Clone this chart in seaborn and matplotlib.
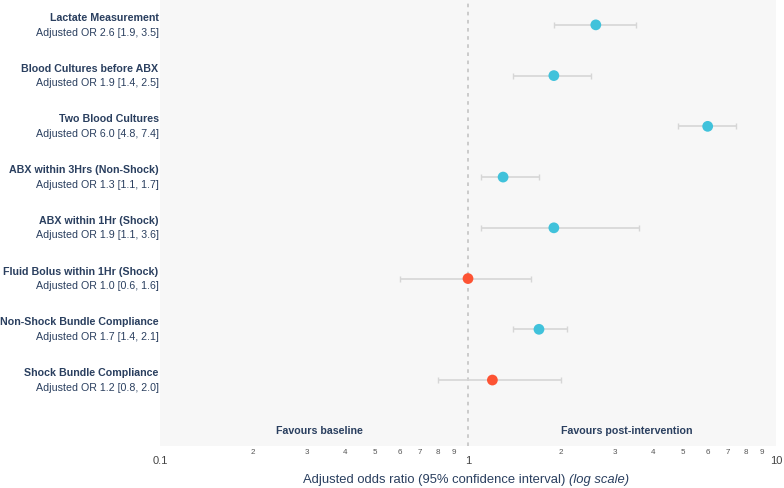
import numpy as np
import pandas as pd
import seaborn as sns
import matplotlib.pyplot as plt
from matplotlib.ticker import FixedLocator, FixedFormatter
import matplotlib.transforms as mtransforms

# -----------------------------
# Data
# -----------------------------
measures = ['Lactate Measurement', 'Blood Cultures before ABX', 'Two Blood Cultures',
            'ABX within 3Hrs (Non-Shock)', 'ABX within 1Hr (Shock)',
            'Fluid Bolus within 1Hr (Shock)', 'Non-Shock Bundle Compliance',
            'Shock Bundle Compliance']
odds_ratio = [2.6, 1.9, 6.0, 1.3, 1.9, 1.0, 1.7, 1.2]
ci_low = [1.9, 1.4, 4.8, 1.1, 1.1, 0.6, 1.4, 0.8]
ci_high = [3.5, 2.5, 7.4, 1.7, 3.6, 1.6, 2.1, 2.0]

major_ticks = [0.1, 1, 10]
major_labels = ['0.1', '1', '10']
minor_ticks = [0.2, 0.3, 0.4, 0.5, 0.6, 0.7, 0.8, 0.9, 2, 3, 4, 5, 6, 7, 8, 9]
minor_labels = ['2', '3', '4', '5', '6', '7', '8', '9'] * 2

df = pd.DataFrame({'measure': measures, 'OR': odds_ratio, 'lo': ci_low, 'hi': ci_high})
df['row'] = np.arange(len(df))
df['sig'] = np.where((df['lo'] > 1) | (df['hi'] < 1), 'sig', 'ns')

# -----------------------------
# Style
# -----------------------------
sns.set_style('white')
plt.rcParams['font.family'] = ['Liberation Sans', 'DejaVu Sans']
navy = '#2a3f5f'

fig = plt.figure(figsize=(7.84, 4.88), dpi=100)
ax = fig.add_axes([160 / 784, 1 - 446 / 488, 616 / 784, 446 / 488])
ax.set_facecolor('#f7f7f7')
for s in ax.spines.values():
    s.set_visible(False)

ax.axvline(1, color='#c8c8c8', lw=1.3, ls=(0, (2, 2.5)), zorder=1)

ax.errorbar(df['OR'], df['row'],
            xerr=[df['OR'] - df['lo'], df['hi'] - df['OR']],
            fmt='none', ecolor='#d6d6d6', elinewidth=1.2, capsize=2.5, capthick=1.0, zorder=2)
sns.scatterplot(data=df, x='OR', y='row', hue='sig',
                palette={'sig': '#40c2db', 'ns': '#fd5333'},
                s=60, edgecolor='none', legend=False, zorder=3, ax=ax)

ax.set_xscale('log')
ax.set_xlim(0.1, 10)
ax.set_ylim(8.3, -0.49)
ax.set_yticks([])
ax.set_ylabel('')

# x ticks
ax.xaxis.set_major_locator(FixedLocator(major_ticks))
ax.xaxis.set_major_formatter(FixedFormatter(major_labels))
ax.xaxis.set_minor_locator(FixedLocator(minor_ticks))
ax.xaxis.set_minor_formatter(FixedFormatter(minor_labels))
ax.tick_params(axis='x', which='major', length=0, pad=7, labelsize=8, labelcolor='#444444')
ax.tick_params(axis='x', which='minor', length=0, pad=2, labelsize=5.8, labelcolor='#555555')

ax.set_xlabel('')
xl = fig.text(303 / 784, 1 - 480 / 488, 'Adjusted odds ratio (95% confidence interval) ',
              ha='left', va='center', fontsize=9.4, color=navy)
fig.draw_without_rendering()
ax.annotate('(log scale)', xy=(1, 0.5), xycoords=xl, ha='left', va='center',
            fontsize=9.4, color=navy, style='italic')

# row labels
trans = mtransforms.blended_transform_factory(ax.transAxes, ax.transData)
for _, r in df.iterrows():
    ax.annotate(r['measure'], xy=(0, r['row']), xycoords=trans, xytext=(-1, 5),
                textcoords='offset points', ha='right', va='center',
                fontsize=7.7, fontweight='bold', color=navy, annotation_clip=False)
    ax.annotate(f"Adjusted OR {r['OR']:.1f} [{r['lo']:.1f}, {r['hi']:.1f}]",
                xy=(0, r['row']), xycoords=trans, xytext=(-1, -5.5),
                textcoords='offset points', ha='right', va='center',
                fontsize=7.7, color=navy, annotation_clip=False)

ax.text(0.33, 8.0, 'Favours baseline', ha='center', va='center',
        fontsize=7.7, fontweight='bold', color=navy)
ax.text(3.28, 8.0, 'Favours post-intervention', ha='center', va='center',
        fontsize=7.7, fontweight='bold', color=navy)

fig.savefig('out.png', dpi=100)
